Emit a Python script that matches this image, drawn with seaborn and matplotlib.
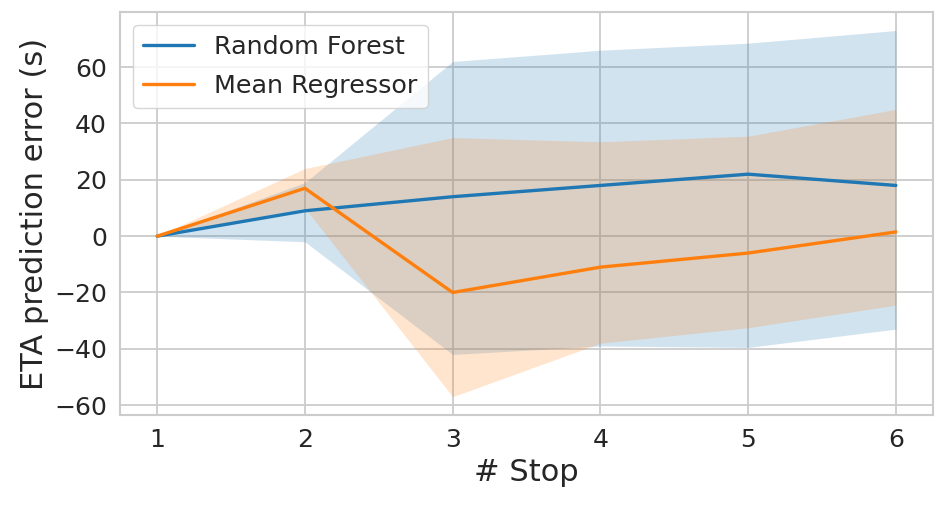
import numpy as np
import pandas as pd
import matplotlib
matplotlib.use("Agg")
import matplotlib.pyplot as plt
import seaborn as sns

# Values
stops = [1, 2, 3, 4, 5, 6]

rf_mean = [0, 9, 14, 18, 22, 18]
rf_low = [0, -2, -42, -39, -39.5, -33]
rf_high = [0, 19, 62, 66, 68.5, 73]

mr_mean = [0, 17, -20, -11, -6, 1.5]
mr_low = [0, 10, -57, -38, -32.5, -24.5]
mr_high = [0, 24, 35, 33.5, 35.5, 45]

models = ["Random Forest", "Mean Regressor"]

sns.set_theme(style="whitegrid", rc={"grid.linewidth": 1.3, "axes.linewidth": 1.5})
plt.rcParams["font.family"] = ["DejaVu Sans"]

df = pd.DataFrame({
    "stop": stops * 2,
    "error": rf_mean + mr_mean,
    "model": [models[0]] * len(stops) + [models[1]] * len(stops),
})

fig = plt.figure(figsize=(9.47, 5.08), dpi=100)
ax = fig.add_axes([0.127, 0.183, 0.858, 0.793])

palette = sns.color_palette("tab10", 2)
sns.lineplot(data=df, x="stop", y="error", hue="model", palette=palette,
             linewidth=2.4, ax=ax)

# error bands
ax.fill_between(stops, rf_low, rf_high, color=palette[0], alpha=0.2, linewidth=0)
ax.fill_between(stops, mr_low, mr_high, color=palette[1], alpha=0.2, linewidth=0)

ax.set_xlabel("# Stop", fontsize=22)
ax.set_ylabel("ETA prediction error (s)", fontsize=22)
ax.tick_params(axis="both", labelsize=18)
ax.set_xticks(stops)
ax.set_yticks([-60, -40, -20, 0, 20, 40, 60])

leg = ax.legend(loc="upper left", fontsize=18.3, frameon=True, labelspacing=0.6)

fig.savefig("out.png", dpi=100)
